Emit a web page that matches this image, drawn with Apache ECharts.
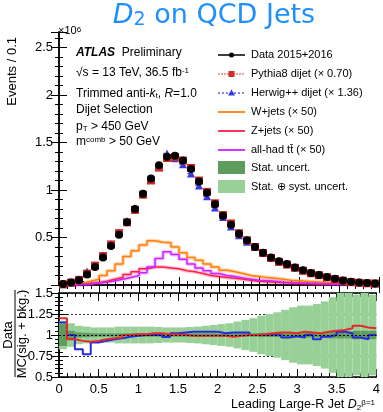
<!DOCTYPE html>
<html>
<head>
<meta charset="utf-8">
<script src="https://cdn.jsdelivr.net/npm/echarts@6/dist/echarts.min.js"></script>
<style>
html, body { margin: 0; padding: 0; background: #fff; }
#chart { width: 383px; height: 412px; }
</style>
</head>
<body>
<div id="chart"></div>
<script>
// bin edges of the D2 histogram (Events / 0.1)
var binEdges = [0, 0.1, 0.2, 0.3, 0.4, 0.5, 0.6, 0.7, 0.8, 0.9, 1.0, 1.1, 1.2, 1.3, 1.4, 1.5, 1.6, 1.7, 1.8, 1.9,
                2.0, 2.1, 2.2, 2.3, 2.4, 2.5, 2.6, 2.7, 2.8, 2.9, 3.0, 3.1, 3.2, 3.3, 3.4, 3.5, 3.6, 3.7, 3.8, 3.9, 4.0];

// events (x10^6)
var dataEvt = [0.010, 0.025, 0.050, 0.110, 0.190, 0.290, 0.410, 0.530, 0.660, 0.800,
               0.960, 1.120, 1.260, 1.350, 1.360, 1.310, 1.220, 1.090, 0.970, 0.850,
               0.730, 0.635, 0.540, 0.470, 0.400, 0.340, 0.290, 0.250, 0.220, 0.185,
               0.155, 0.127, 0.105, 0.084, 0.065, 0.048, 0.035, 0.026, 0.020, 0.017];
var pythia = [0.008, 0.026, 0.054, 0.120, 0.204, 0.305, 0.427, 0.546, 0.660, 0.790,
              0.950, 1.100, 1.235, 1.337, 1.347, 1.310, 1.232, 1.100, 0.980, 0.860,
              0.737, 0.648, 0.545, 0.470, 0.400, 0.337, 0.284, 0.243, 0.214, 0.181,
              0.149, 0.123, 0.103, 0.081, 0.062, 0.045, 0.032, 0.023, 0.018, 0.016];
var herwig = [0.009, 0.025, 0.060, 0.143, 0.209, 0.312, 0.432, 0.552, 0.673, 0.808,
              0.960, 1.120, 1.260, 1.385, 1.333, 1.272, 1.173, 1.048, 0.933, 0.817,
              0.716, 0.617, 0.524, 0.456, 0.400, 0.340, 0.287, 0.250, 0.227, 0.188,
              0.160, 0.127, 0.110, 0.086, 0.065, 0.046, 0.034, 0.027, 0.021, 0.017];
var wjets = [0.005, 0.010, 0.020, 0.040, 0.060, 0.100, 0.150, 0.220, 0.300, 0.360,
             0.420, 0.465, 0.450, 0.445, 0.400, 0.340, 0.290, 0.260, 0.220, 0.190,
             0.155, 0.140, 0.120, 0.100, 0.090, 0.080, 0.070, 0.060, 0.050, 0.045,
             0.040, 0.035, 0.030, 0.025, 0.020, 0.018, 0.015, 0.012, 0.010, 0.010];
var zjets = [0.002, 0.004, 0.008, 0.015, 0.025, 0.040, 0.060, 0.080, 0.110, 0.140,
             0.170, 0.190, 0.190, 0.180, 0.170, 0.150, 0.140, 0.120, 0.100, 0.090,
             0.080, 0.070, 0.060, 0.050, 0.040, 0.035, 0.030, 0.025, 0.020, 0.018,
             0.015, 0.013, 0.011, 0.010, 0.008, 0.007, 0.006, 0.005, 0.005, 0.004];
var ttbar = [0.001, 0.002, 0.005, 0.010, 0.020, 0.030, 0.045, 0.060, 0.080, 0.100,
             0.130, 0.190, 0.280, 0.350, 0.320, 0.270, 0.220, 0.180, 0.150, 0.120,
             0.100, 0.090, 0.075, 0.060, 0.050, 0.045, 0.040, 0.030, 0.025, 0.020,
             0.018, 0.015, 0.012, 0.010, 0.008, 0.007, 0.006, 0.005, 0.004, 0.003];

// Data / MC ratios
var ratioPythia = [1.20, 0.95, 0.93, 0.92, 0.93, 0.95, 0.96, 0.97, 1.00, 1.01,
                   1.01, 1.02, 1.02, 1.01, 1.01, 1.00, 0.99, 0.99, 0.99, 0.99,
                   0.99, 0.98, 0.99, 1.00, 1.00, 1.01, 1.02, 1.03, 1.03, 1.02,
                   1.04, 1.03, 1.02, 1.04, 1.05, 1.06, 1.08, 1.11, 1.09, 1.08];
var ratioHerwig = [1.15, 1.00, 0.83, 0.77, 0.91, 0.93, 0.95, 0.96, 0.98, 0.99,
                   1.00, 1.00, 1.00, 0.975, 1.02, 1.03, 1.04, 1.04, 1.04, 1.04,
                   1.02, 1.03, 1.03, 1.03, 1.00, 1.00, 1.01, 1.00, 0.97, 0.985,
                   0.97, 1.00, 0.95, 0.98, 1.00, 1.04, 1.02, 0.97, 0.95, 1.00];
// half widths of the uncertainty bands
var statUnc = [0.13, 0.05, 0.03, 0.025, 0.02, 0.02, 0.02, 0.02, 0.02, 0.02,
               0.02, 0.02, 0.02, 0.02, 0.02, 0.02, 0.02, 0.02, 0.02, 0.02,
               0.02, 0.02, 0.02, 0.02, 0.02, 0.025, 0.025, 0.025, 0.03, 0.03,
               0.03, 0.03, 0.03, 0.035, 0.04, 0.04, 0.04, 0.05, 0.05, 0.05];
var totUnc = [0.17, 0.14, 0.11, 0.10, 0.09, 0.09, 0.09, 0.10, 0.10, 0.10,
              0.10, 0.10, 0.095, 0.09, 0.09, 0.09, 0.095, 0.10, 0.11, 0.12,
              0.13, 0.14, 0.16, 0.18, 0.20, 0.23, 0.25, 0.27, 0.30, 0.33,
              0.35, 0.35, 0.37, 0.40, 0.45, 0.50, 0.50, 0.48, 0.50, 0.48];

var legendNames = ['Data 2015+2016', 'Pythia8 dijet (\u00d7 0.70)', 'Herwig++ dijet (\u00d7 1.36)',
                   'W+jets (\u00d7 50)', 'Z+jets (\u00d7 50)', 'all-had t{ov|t\u0304} (\u00d7 50)',
                   'Stat. uncert.', 'Stat. \u2295 syst. uncert.'];
var infoLines = ['{b|ATLAS}  Preliminary', '\u221as = 13 TeV, 36.5 fb{sup|-1}', 'Trimmed anti-{i|k}{sub|t}, {i|R}=1.0',
                 'Dijet Selection', 'p{sub|T} > 450 GeV', 'm{sup|comb} > 50 GeV'];

var FONT = 'Liberation Sans';
var C = {
    title: '#1e8fff', data: '#000', pythia: '#d42a2a', herwig: '#3838e0',
    w: '#ff7f0e', z: '#ff1f4a', tt: '#cc22ff',
    ratioR: '#e82828', ratioB: '#2828e0', stat: '#5e9c5e', tot: '#98d098'
};

// helpers: turn bin values into plot points
function stepPoints(vals) {
    var pts = [];
    for (var i = 0; i < vals.length; i++) {
        pts.push([binEdges[i], vals[i]]);
        pts.push([binEdges[i + 1], vals[i]]);
    }
    return pts;
}
function centerPoints(vals) {
    return vals.map(function (v, i) { return [(binEdges[i] + binEdges[i + 1]) / 2, v]; });
}
function binRows(vals) {
    return vals.map(function (v, i) { return [binEdges[i], binEdges[i + 1], v]; });
}

// horizontal bin-width bars
function hbars(name, vals, color, dash, width, xi, yi) {
    return {
        name: name, type: 'custom', xAxisIndex: xi, yAxisIndex: yi, z: 3,
        data: binRows(vals),
        encode: { x: [0, 1], y: 2 },
        renderItem: function (params, api) {
            var p1 = api.coord([api.value(0), api.value(2)]);
            var p2 = api.coord([api.value(1), api.value(2)]);
            return { type: 'line', shape: { x1: p1[0], y1: p1[1], x2: p2[0], y2: p2[1] },
                     style: { stroke: color, lineWidth: width, lineDash: dash } };
        }
    };
}

// uncertainty band around 1
function band(name, hw, color, z) {
    return {
        name: name, type: 'custom', xAxisIndex: 2, yAxisIndex: 2, z: z,
        data: binRows(hw),
        encode: { x: [0, 1], y: 2 },
        renderItem: function (params, api) {
            var h = api.value(2);
            var p1 = api.coord([api.value(0), Math.min(1.5, 1 + h)]);
            var p2 = api.coord([api.value(1), Math.max(0.5, 1 - h)]);
            return { type: 'rect', shape: { x: p1[0], y: p1[1], width: p2[0] - p1[0], height: p2[1] - p1[1] },
                     style: { fill: color } };
        }
    };
}

function histLine(name, vals, color, xi, yi, width, z) {
    return {
        name: name, type: 'line', xAxisIndex: xi, yAxisIndex: yi, z: z || 2,
        data: stepPoints(vals), showSymbol: false, symbol: 'none',
        lineStyle: { color: color, width: width || 1.5 }, animation: false
    };
}

function markers(name, vals, symbol, size, color) {
    return {
        name: name, type: 'scatter', xAxisIndex: 0, yAxisIndex: 0, z: 4,
        data: centerPoints(vals), symbol: symbol, symbolSize: size,
        itemStyle: { color: color, opacity: 1 }
    };
}

var tickCommon = {
    axisLine: { show: true, lineStyle: { color: '#000', width: 1.5 } },
    axisTick: { show: true, inside: true, length: 8, lineStyle: { color: '#000', width: 1 } },
    minorTick: { show: true, splitNumber: 5, length: 4, lineStyle: { color: '#000', width: 1 } },
    splitLine: { show: false }
};
function xAx(grid, pos, labels) {
    return Object.assign({
        type: 'value', gridIndex: grid, position: pos, min: 0, max: 4, interval: 0.5,
        axisLabel: { show: labels, color: '#000', fontFamily: FONT, fontSize: 13, margin: 6 }
    }, tickCommon);
}
var labelTop = function (v) {
    return (v > 0 && Math.abs(v * 2 - Math.round(v * 2)) < 1e-6) ? String(v) : '';
};

var chart = echarts.init(document.getElementById('chart'), null, { renderer: 'canvas' });

var legendY = [55, 74, 93, 112, 131, 150, 168, 187];
var legX0 = 218, legX1 = 245, legTx = 251;
var legendGraphics = [
    { type: 'line', shape: { x1: legX0, y1: legendY[0], x2: legX1, y2: legendY[0] }, style: { stroke: C.data, lineWidth: 1.5 } },
    { type: 'circle', shape: { cx: (legX0 + legX1) / 2, cy: legendY[0], r: 2.5 }, style: { fill: C.data } },
    { type: 'line', shape: { x1: legX0, y1: legendY[1], x2: legX1, y2: legendY[1] }, style: { stroke: '#f08080', lineWidth: 1.5, lineDash: [2, 1] } },
    { type: 'rect', shape: { x: (legX0 + legX1) / 2 - 3, y: legendY[1] - 3, width: 6, height: 6 }, style: { fill: C.pythia } },
    { type: 'line', shape: { x1: legX0, y1: legendY[2], x2: legX1, y2: legendY[2] }, style: { stroke: C.herwig, lineWidth: 1.2, lineDash: [2, 2] } },
    { type: 'polygon', shape: { points: [[231.5, legendY[2] - 3.5], [235, legendY[2] + 2.5], [228, legendY[2] + 2.5]] }, style: { fill: C.herwig } },
    { type: 'line', shape: { x1: legX0, y1: legendY[3], x2: legX1, y2: legendY[3] }, style: { stroke: C.w, lineWidth: 1.8 } },
    { type: 'line', shape: { x1: legX0, y1: legendY[4], x2: legX1, y2: legendY[4] }, style: { stroke: C.z, lineWidth: 1.8 } },
    { type: 'line', shape: { x1: legX0, y1: legendY[5], x2: legX1, y2: legendY[5] }, style: { stroke: C.tt, lineWidth: 1.8 } },
    { type: 'rect', shape: { x: legX0, y: legendY[6] - 7, width: legX1 - legX0, height: 13 }, style: { fill: C.stat } },
    { type: 'rect', shape: { x: legX0, y: legendY[7] - 7, width: legX1 - legX0, height: 13 }, style: { fill: C.tot } }
];
legendNames.forEach(function (t, i) {
    legendGraphics.push({
        type: 'text', x: legTx, y: legendY[i],
        style: { text: t, font: '11px "' + FONT + '"', fill: '#000', verticalAlign: 'middle',
                 rich: { ov: { fontSize: 11, fontFamily: FONT } } }
    });
});

var infoY = [53, 73, 94, 110, 127, 142];
var infoGraphics = infoLines.map(function (t, i) {
    return {
        type: 'text', x: 76, y: infoY[i],
        style: {
            text: t, font: '12px "' + FONT + '"', fill: '#000', verticalAlign: 'middle',
            rich: {
                b: { fontWeight: 'bold', fontStyle: 'italic', fontSize: 12, fontFamily: FONT },
                i: { fontStyle: 'italic', fontSize: 12, fontFamily: FONT },
                sup: { fontSize: 8, fontFamily: FONT, verticalAlign: 'top', lineHeight: 8 },
                sub: { fontSize: 8, fontFamily: FONT, verticalAlign: 'bottom', lineHeight: 8 }
            }
        }
    };
});

var option = {
    animation: false,
    backgroundColor: '#fff',
    grid: [
        { left: 59, right: 4, top: 32, height: 253 },
        { left: 59, right: 4, top: 293, height: 84 }
    ],
    xAxis: [xAx(0, 'bottom', false), xAx(0, 'top', false), xAx(1, 'bottom', true), xAx(1, 'top', false)],
    yAxis: [
        Object.assign({ type: 'value', gridIndex: 0, position: 'left', min: 0, max: 2.663, interval: 0.5,
            axisLabel: { color: '#000', fontFamily: FONT, fontSize: 13, margin: 6, formatter: labelTop } }, tickCommon),
        Object.assign({ type: 'value', gridIndex: 0, position: 'right', min: 0, max: 2.663, interval: 0.5,
            axisLabel: { show: false } }, tickCommon),
        Object.assign({ type: 'value', gridIndex: 1, position: 'left', min: 0.5, max: 1.5, interval: 0.25,
            axisLabel: { color: '#000', fontFamily: FONT, fontSize: 13, margin: 6 } }, tickCommon,
            { splitLine: { show: true, lineStyle: { color: '#333', type: [2, 2], width: 1 } } }),
        Object.assign({ type: 'value', gridIndex: 1, position: 'right', min: 0.5, max: 1.5, interval: 0.25,
            axisLabel: { show: false } }, tickCommon)
    ],
    series: [
        histLine('W+jets band', wjets, 'rgba(255,127,14,0.3)', 0, 0, 4, 1),
        histLine('Z+jets band', zjets, 'rgba(255,31,74,0.25)', 0, 0, 4, 1),
        histLine('ttbar band', ttbar, 'rgba(204,34,255,0.25)', 0, 0, 4, 1),
        histLine(legendNames[3], wjets, C.w, 0, 0, 1.5, 2),
        histLine(legendNames[4], zjets, C.z, 0, 0, 1.5, 2),
        histLine(legendNames[5], ttbar, C.tt, 0, 0, 1.5, 2),
        hbars('herwig bars', herwig, '#6a6af0', [2, 2], 1.2, 0, 0),
        hbars('pythia bars', pythia, '#f08080', [2, 1], 1.5, 0, 0),
        markers(legendNames[2], herwig, 'triangle', 8, C.herwig),
        markers(legendNames[1], pythia, 'rect', 8, C.pythia),
        hbars('data bars', dataEvt, '#000', null, 1.5, 0, 0),
        markers(legendNames[0], dataEvt, 'circle', 8, C.data),
        band(legendNames[7], totUnc, C.tot, 1),
        Object.assign(band(legendNames[6], statUnc, C.stat, 2), {
            markLine: { silent: true, symbol: 'none', label: { show: false },
                        lineStyle: { color: '#000', type: [2, 2], width: 1.2 }, data: [{ yAxis: 1 }] }
        }),
        histLine('Data / Herwig', ratioHerwig, C.ratioB, 2, 2, 2, 3),
        histLine('Data / Pythia', ratioPythia, C.ratioR, 2, 2, 2, 4)
    ],
    graphic: [
        { type: 'text', x: 214, y: 16, style: { text: '{i|D}{s|2} on QCD Jets', font: '27px "DejaVu Sans"', fill: C.title,
            align: 'center', verticalAlign: 'middle',
            rich: { i: { fontStyle: 'italic', fontSize: 27, fontFamily: 'DejaVu Sans' },
                    s: { fontSize: 19, fontFamily: 'DejaVu Sans', verticalAlign: 'bottom', lineHeight: 19 } } } },
        { type: 'text', x: 58, y: 31, style: { text: '\u00d710{sup|6}', font: '11px "' + FONT + '"', fill: '#000',
            verticalAlign: 'middle', rich: { sup: { fontSize: 8, fontFamily: FONT, verticalAlign: 'top', lineHeight: 8 } } } },
        { type: 'text', x: 12, y: 37, rotation: Math.PI / 2, style: { text: 'Events / 0.1', font: '13px "' + FONT + '"',
            fill: '#000', align: 'right', verticalAlign: 'middle' } },
        { type: 'text', x: 8, y: 335, rotation: Math.PI / 2, style: { text: 'Data', font: '13px "' + FONT + '"',
            fill: '#000', align: 'center', verticalAlign: 'middle' } },
        { type: 'line', shape: { x1: 15, y1: 290, x2: 15, y2: 377 }, style: { stroke: '#000', lineWidth: 1 } },
        { type: 'text', x: 22, y: 334, rotation: Math.PI / 2, style: { text: 'MC(sig. + bkg.)', font: '13px "' + FONT + '"',
            fill: '#000', align: 'center', verticalAlign: 'middle' } },
        { type: 'text', x: 375, y: 405, style: { text: 'Leading Large-R Jet {i|D}{sub|2}{sup|\u03b2=1}', font: '12.5px "' + FONT + '"',
            fill: '#000', align: 'right', verticalAlign: 'middle',
            rich: { i: { fontStyle: 'italic', fontSize: 12.5, fontFamily: FONT },
                    sup: { fontSize: 8, fontFamily: FONT, verticalAlign: 'top', lineHeight: 8 },
                    sub: { fontSize: 8, fontFamily: FONT, verticalAlign: 'bottom', lineHeight: 8 } } } }
    ].concat(infoGraphics, legendGraphics)
};

chart.setOption(option);
</script>
</body>
</html>
